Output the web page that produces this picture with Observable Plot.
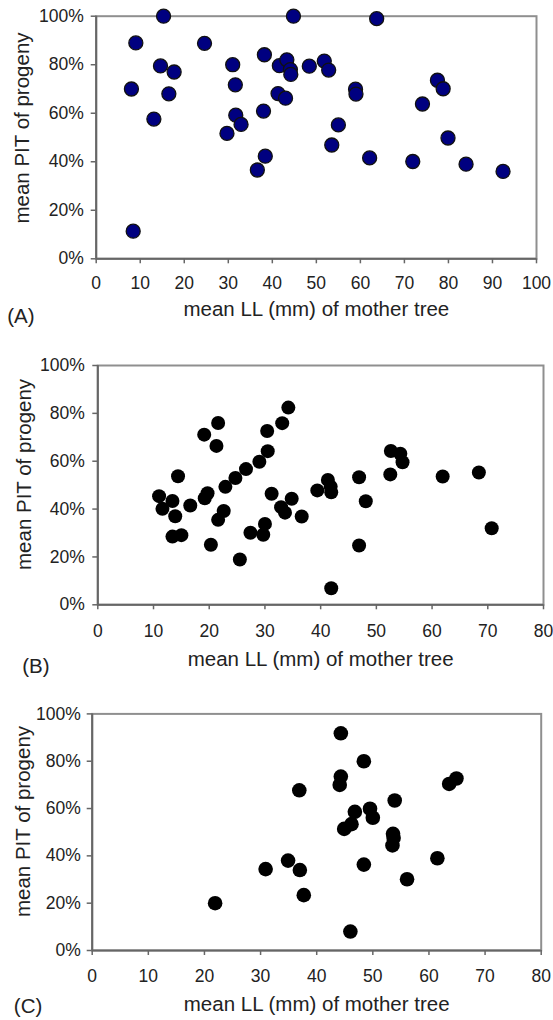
<!DOCTYPE html>
<html>
<head>
<meta charset="utf-8">
<script src="https://cdn.jsdelivr.net/npm/d3@7"></script>
<script src="https://cdn.jsdelivr.net/npm/@observablehq/plot@0.6"></script>
<style>
  body { margin: 0; background: #fff; }
  #root { position: relative; width: 553px; height: 1020px; overflow: hidden; background: #fff; }
  .panel { position: absolute; left: 0; }
</style>
</head>
<body>
<div id="root"></div>
<script>
// Panel A
const llA = [8,9,15.3,14.6,17.7,16.5,13.1,8.4,24.6,31,31.6,31.7,32.9,29.7,38.2,38,38.4,36.6,41.6,43.3,44.1,44.2,44.8,48.4,51.8,52.8,41.3,43,63.7,58.9,59,55,53.5,62.1,71.9,77.5,78.8,74.1,79.9,84,92.4];
const pitA = [70,89,100,79.5,77,68,57.6,11.4,88.8,80,71.7,59.2,55.4,51.7,84.1,60.9,42.3,36.6,79.6,82,78,76,100,79.4,81.5,77.8,68.1,66.2,99,69.9,67.9,55.2,46.9,41.6,40.1,73.6,70.1,63.8,49.8,39,36];
// Panel B
const llB = [11.0,11.6,13.4,13.9,14.4,13.4,15.0,16.6,19.1,21.6,21.3,19.7,19.2,22.6,21.6,20.3,25.5,22.9,24.7,26.6,29.0,30.5,30.4,34.2,33.1,31.2,34.8,32.9,33.6,36.6,30.0,29.7,27.4,39.4,41.3,41.8,41.9,46.9,48.1,46.9,41.9,52.6,54.3,54.7,52.5,61.9,68.4,70.7];
const pitB = [45.4,40.1,43.4,37,53.7,28.5,29.1,41.5,71.1,76,66.4,46.6,44.5,39.2,35.5,25.1,18.9,49.3,53,56.7,59.8,64.2,72.6,82.4,75.9,46.4,44.3,40.8,38.5,36.9,33.8,29.3,30.1,47.8,52.2,49.4,47,53.3,43.3,24.8,6.9,64.3,63.1,59.6,54.5,53.6,55.3,32];
// Panel C
const llC = [21.9,30.9,34.9,37.0,37.7,36.9,44.3,48.4,44.3,44.1,53.9,63.6,64.9,46.8,49.5,50.0,46.2,44.9,53.6,53.7,53.5,48.4,61.5,56.1,46];
const pitC = [20,34.4,38,34,23.4,67.7,91.8,80,73.5,70,63.4,70.4,72.7,58.6,59.9,56.1,53.4,51.4,49.3,47.6,44.4,36.3,39,30.1,8];

const yTicks = [0, 20, 40, 60, 80, 100];
const xTitle = "mean LL (mm) of mother tree";
const yTitle = "mean PIT of progeny";
const FONT = "'Liberation Sans', Arial, Helvetica, sans-serif";

function panel(cfg) {
  const data = cfg.ll.map((v, i) => ({ll: v, pit: cfg.pit[i]}));
  return Plot.plot({
    width: 553,
    height: cfg.height,
    marginLeft: cfg.ml, marginRight: cfg.mr, marginTop: cfg.mt, marginBottom: cfg.mb,
    style: {fontFamily: FONT, fontSize: "17.5px", color: "#222", background: "white", overflow: "visible"},
    x: {domain: [0, cfg.xMax]},
    y: {domain: [0, 100]},
    marks: [
      Plot.frame({stroke: "#8f8f8f", strokeWidth: 2}),
      Plot.ruleX([0], {stroke: "#666", strokeWidth: 2}),
      Plot.ruleY([0], {stroke: "#666", strokeWidth: 2}),
      Plot.axisX({ticks: d3.range(0, cfg.xMax + 1, 10), tickSize: 5, tickPadding: cfg.tpx, stroke: "#666", strokeWidth: 1.5, label: null, fill: "#222"}),
      Plot.axisY({ticks: yTicks, tickFormat: d => d + "%", tickSize: 5, tickPadding: cfg.tpy, stroke: "#666", strokeWidth: 1.5, label: null, fill: "#222"}),
      Plot.text([xTitle], {frameAnchor: "bottom", textAnchor: "middle", lineAnchor: "middle", dy: cfg.xtDy, fontSize: 20.5, fill: "#222"}),
      Plot.text([yTitle], {frameAnchor: "left", textAnchor: "middle", lineAnchor: "middle", rotate: -90, dx: cfg.ytDx, dy: cfg.ytDy, fontSize: 20.5, fill: "#222"}),
      Plot.text([cfg.tag], {frameAnchor: "bottom-left", textAnchor: "start", lineAnchor: "middle", dx: cfg.tagDx, dy: cfg.tagDy, fontSize: 20.5, fill: "#222"}),
      Plot.dot(data, {x: "ll", y: "pit", r: cfg.r, fill: cfg.fill, stroke: cfg.stroke, strokeWidth: cfg.sw})
    ]
  });
}

const root = document.getElementById("root");
const panels = [
  {top: 0, height: 330, ml: 95.7, mr: 17, mt: 15.7, mb: 71.7, xMax: 100, tpx: 13, tpy: 7.5,
   ll: llA, pit: pitA, r: 7, fill: "#000080", stroke: "#111", sw: 1.3,
   xtDy: 51, ytDx: -74, ytDy: -9.5, tag: "(A)", tagDx: -89, tagDy: 58},
  {top: 330, height: 350, ml: 97.3, mr: 10, mt: 35, mb: 75.7, xMax: 80, tpx: 15, tpy: 8,
   ll: llB, pit: pitB, r: 7, fill: "#000", stroke: "none", sw: 0,
   xtDy: 55, ytDx: -73, ytDy: -10.7, tag: "(B)", tagDx: -75.6, tagDy: 62},
  {top: 680, height: 340, ml: 91.7, mr: 12.3, mt: 33.4, mb: 70, xMax: 80, tpx: 14, tpy: 6.5,
   ll: llC, pit: pitC, r: 7.3, fill: "#000", stroke: "none", sw: 0,
   xtDy: 54, ytDx: -69, ytDy: -10.7, tag: "(C)", tagDx: -78.4, tagDy: 56}
];
for (const p of panels) {
  const svg = panel(p);
  svg.classList.add("panel");
  svg.style.top = p.top + "px";
  svg.style.position = "absolute";
  root.appendChild(svg);
}
</script>
</body>
</html>
